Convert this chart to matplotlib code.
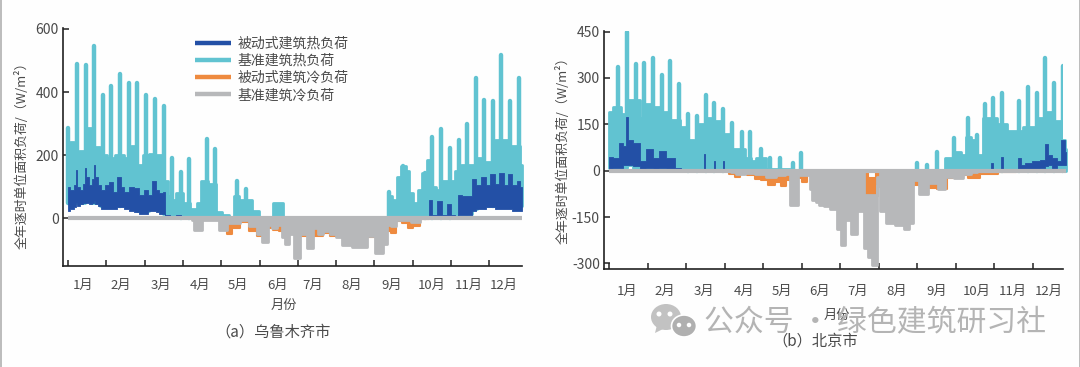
import matplotlib; matplotlib.use("Agg")
import matplotlib.pyplot as plt
from matplotlib.lines import Line2D
from matplotlib.patches import Ellipse, Polygon, Rectangle
import numpy as np

plt.rcParams['font.family'] = ['Noto Sans CJK SC', 'DejaVu Sans']
plt.rcParams['axes.unicode_minus'] = False

W, H = 1080, 367
C_PHEAT, C_BHEAT, C_PCOOL, C_BCOOL = "#2350a6", "#61c3d1", "#ee8a3f", "#b7b8ba"
C_TXT = "#4a4a4a"
MONTHS = [f"{i}月" for i in range(1, 13)]
LABELS = ["被动式建筑热负荷", "基准建筑热负荷", "被动式建筑冷负荷", "基准建筑冷负荷"]
MONTH_TICKS = [30.4 * i for i in range(12)]

# ---- (a) Urumqi (day of year, W/m2)
a_peak_day = [0, 7, 14, 21, 27.5, 34, 41, 48, 55, 62, 69, 76, 82.5, 89.5, 96, 110, 117, 134, 141,
              255, 266, 283, 289, 296, 303, 310, 317, 323.5, 330, 337, 344, 351, 358]
a_peak_val = [285, 488, 485, 545, 390, 420, 457, 430, 430, 390, 378, 355, 190, 147, 188, 252, 220, 118, 92,
              83, 165, 145, 258, 283, 222, 248, 300, 445, 375, 372, 517, 372, 445]
a_bh_day = [0, 3, 7, 11, 16, 22, 28, 34, 41, 48, 52, 57, 62, 66, 72, 78, 80, 83, 89, 94, 100, 104, 107,
            115, 120, 125, 130, 134, 138, 144, 148, 155, 162, 163, 168, 170, 172, 254, 255, 259, 260.5, 262, 266, 270,
            272, 276, 279, 283, 286.5, 290, 293.6, 297.5, 301.5, 305.5, 309.5, 313.5, 319, 322.6,
            326.6, 332, 336, 341, 348, 352, 357, 360]
a_bh_hi = [200, 242, 200, 215, 285, 225, 200, 190, 200, 190, 230, 170, 200, 205, 200, 120, 70, 60, 80, 50, 30, 50, 120,
           110, 20, 12, 5, 70, 60, 60, 25, 0, 0, 50, 50, 50, 0, 0, 70, 60, 0, 130, 165, 150,
           80, 50, 90, 145, 185, 100, 90, 120, 120, 120, 150, 170, 170, 170,
           190, 180, 180, 250, 250, 230, 230, 170]
a_bh_lo = [50, 50, 50, 50, 60, 50, 40, 40, 40, 40, 30, 25, 25, 30, 30, 15, 5, 3, 3, 3, 3, 3, 3,
           3, 3, 3, 3, 3, 3, 3, 3, 0, 0, 3, 3, 3, 0, 0, 3, 3, 0, 3, 3, 3,
           3, 3, 3, 3, 3, 3, 3, 3, 3, 3, 15, 15, 15, 30,
           40, 40, 40, 40, 40, 40, 40, 40]
a_ph_day = [0, 3, 6, 7, 8, 11, 13, 14, 15, 18, 20, 21, 22, 25, 28, 31, 34, 37, 41, 43, 46, 50, 55, 58, 62, 65, 69, 71, 74, 76, 77.5, 80, 82, 89, 91,
            285, 288, 290, 296, 298, 303, 305, 309, 310, 315, 320, 322, 326, 330, 333, 337, 340, 344, 348, 351, 354, 358, 360]
a_ph_hi = [100, 90, 105, 155, 100, 90, 110, 160, 130, 105, 125, 170, 130, 105, 90, 105, 115, 85, 130, 100, 85, 100, 95, 75, 90, 75, 120, 90, 80, 85, 10, 10, 0, 10, 0,
           0, 60, 10, 55, 10, 45, 10, 0, 75, 70, 70, 125, 105, 130, 105, 140, 110, 145, 105, 140, 105, 120, 100]
a_ph_lo = [25, 30, 35, 50, 40, 45, 50, 50, 50, 45, 50, 55, 45, 40, 30, 30, 30, 30, 35, 35, 30, 25, 20, 15, 15, 25, 25, 20, 15, 15, 0, 0, 0, 0, 0,
           0, 0, 0, 0, 0, 0, 0, 0, 10, 10, 10, 25, 30, 30, 35, 35, 30, 30, 30, 30, 25, 25, 25]
a_bc_day = [98, 102, 105, 107, 118, 122, 125, 128, 133, 140, 147, 153, 155, 157, 160, 163, 168, 171, 174, 177,
            182, 186, 193, 196, 200, 205, 211, 214, 221, 229, 234, 240, 248, 252, 254, 258, 262, 268, 276, 283]
a_bc_lo = [-5, -35, -35, -5, -5, -35, -35, -15, -15, -5, -25, -50, -75, -75, -20, -30, -20, -60, -80, -50,
           -125, -50, -95, -30, -50, -40, -50, -60, -85, -90, -90, -55, -110, -80, -20, -25, -5, -5, -10, 0]
a_pc_day = [118, 125, 128, 133, 140, 147, 153, 160, 165, 170, 200, 205, 211, 250, 254, 258, 262, 268, 272, 276, 283, 290]
a_pc_lo = [0, -10, -48, -30, -12, -40, -55, -30, -35, -40, -55, -45, -55, -60, -40, -45, -8, -15, -30, -25, -3, 0]

# ---- (b) Beijing
b_peak_day = [7, 14, 21, 27.7, 34.5, 41.4, 48.3, 55, 62, 69, 76, 83, 89.7, 96.5, 104.7, 110.8, 119.8, 127, 134.5,
              144.8, 151.7, 243, 251, 258.5, 272, 283, 290.7, 296.5, 303, 310, 323.7, 330.3, 337.4, 344, 351, 358]
b_peak_val = [335, 450, 345, 347, 365, 310, 355, 282, 185, 178, 245, 220, 200, 155, 125, 125, 70, 42, 42,
              25, 58, 25, 20, 62, 105, 170, 115, 215, 235, 250, 225, 270, 250, 365, 285, 340]
b_bh_day = [0, 6, 12, 16, 22, 26, 31, 37, 44, 52, 59, 65, 69, 73, 80, 86, 93, 99, 105, 109, 114, 118, 122, 125,
            160, 262, 268, 275, 280, 283, 288, 293.4, 297, 302.6, 310.5, 317, 323.7, 330, 335.5, 341, 347.4, 354, 359, 361]
b_bh_hi = [190, 205, 185, 230, 230, 170, 215, 205, 190, 165, 140, 100, 90, 150, 170, 160, 120, 70, 70, 40, 30, 40, 40, 5,
           3, 3, 40, 60, 50, 110, 100, 50, 170, 170, 150, 130, 130, 140, 140, 170, 190, 160, 100, 70]
b_bh_lo = [8, 8, 10, 20, 5, 5, 5, 5, 5, 3, 0, 0, 0, 0, 0, 0, 0, 0, 0, 0, 0, 0, 0, 0,
           0, 0, 0, 0, 0, 0, 0, 0, 0, 0, 0, 0, 0, 0, 0, 0, 0, 0, 0, 0]
b_ph_day = [0, 5.8, 9, 13, 13.5, 16, 22, 26, 32, 37, 41, 48, 55, 59, 74.5, 75, 76.5, 82, 82.7, 84, 89.5, 90, 91,
            300, 302.6, 304, 309, 310, 312, 322, 323.7, 327, 330, 337, 343, 344.5, 348, 352, 355, 358, 361]
b_ph_hi = [45, 40, 90, 80, 175, 100, 90, 30, 70, 40, 65, 40, 10, 0, 0, 55, 0, 0, 30, 0, 0, 30, 0,
           0, 25, 5, 5, 45, 5, 5, 40, 20, 25, 30, 35, 85, 50, 40, 30, 100, 60]
b_ph_lo = [5, 8, 10, 20, 20, 20, 15, 5, 8, 5, 8, 5, 0, 0, 0, 0, 0, 0, 0, 0, 0, 0, 0,
           0, 0, 0, 0, 0, 0, 0, 0, 0, 5, 5, 10, 15, 20, 10, 20, 20, 20]
b_bc_day = [96, 104, 110, 120, 128, 136, 141, 144.5, 148, 150, 155, 158.5, 159, 161, 165, 166.7, 172, 177, 182, 184,
            188, 193, 198, 203.5, 205, 210, 212.5, 215, 222, 230, 235, 239, 240.5, 248, 256, 263, 267, 277, 282, 290]
b_bc_lo = [-3, -10, -8, -12, -20, -15, -10, -110, -110, -15, -15, -15, -60, -95, -100, -110, -115, -125, -190, -240,
           -160, -205, -130, -250, -280, -305, -50, -130, -170, -175, -190, -170, -30, -75, -40, -60, -20, -25, -10, -3]
b_bc_hi = [0, 0, 0, 0, 0, 0, 0, 0, 0, 0, 0, 0, 0, 0, 0, 0, 0, 0, 0, 0,
           0, 0, 0, -80, -80, -80, -20, 0, 0, 0, 0, 0, 0, 0, 0, 0, 0, 0, 0, 0]
b_pc_day = [92, 97, 102, 105, 112, 118, 122, 128, 133, 138, 141, 150, 155, 158, 170, 185, 192, 203.5, 205, 210, 211,
            242, 255, 263, 269.6, 277, 289, 297, 317, 325]
b_pc_lo = [0, -10, -20, -5, -15, -28, -30, -45, -35, -50, -30, -25, -35, -10, -50, -45, -90, -80, -80, -75, -20,
           -45, -55, -60, -25, -15, -25, -10, -5, 0]
b_pc_hi = [0, 0, 0, 0, 0, 0, 0, 0, 0, 0, 0, 0, 0, 0, 0, 0, 0, 0, -22, -22, 0,
           0, 0, 0, 0, 0, 0, 0, 0, 0]

a_label_days = [12, 42, 74, 105, 135, 166, 194, 225, 257, 289, 318, 346]
b_label_days = [14, 44, 75, 106.5, 136.5, 166.4, 196.4, 227, 258.5, 290, 318.8, 346.8]


def panel(box, xlim, ylim, yticks, label_days, pad, peak, bh, ph, bc, pc, zero_end):
    l, r, t, b = box
    ax = fig.add_axes([l / W, 1 - b / H, (r - l) / W, (b - t) / H])
    ax.set_xlim(*xlim); ax.set_ylim(*ylim)
    ax.patch.set_alpha(0)
    kw = dict(clip_on=False, joinstyle="round", step="mid")
    ax.fill_between(bh[0], bh[2], bh[1], color=C_BHEAT, lw=2.0, zorder=2, **kw)
    # spikes rise from the body of the load curve, not from zero
    base = np.interp(peak[0], bh[0], bh[2])
    ax.vlines(peak[0], base, peak[1], color=C_BHEAT, lw=3.2, capstyle="round", zorder=2)
    ax.fill_between(ph[0], ph[2], ph[1], color=C_PHEAT, lw=0.6, zorder=3, **kw)
    ax.fill_between(pc[0], pc[2], pc[1], color=C_PCOOL, lw=1.5, zorder=4, **kw)
    ax.fill_between(bc[0], bc[2], bc[1], color=C_BCOOL, lw=2.0, zorder=5, **kw)
    ax.plot([0, zero_end], [0, 0], color=C_BCOOL, lw=3.0, zorder=6, solid_capstyle="butt", clip_on=False)
    for s in ("top", "right"):
        ax.spines[s].set_visible(False)
    for s in ("left", "bottom"):
        ax.spines[s].set_linewidth(1.2); ax.spines[s].set_color("#222222")
    ax.set_yticks(yticks)
    ax.set_xticks(MONTH_TICKS, [""] * 12)
    ax.tick_params(which="major", direction="in", length=4, width=1.1, color="#222222",
                   labelsize=10, labelcolor=C_TXT, pad=3)
    ax.set_xticks(label_days, MONTHS, minor=True)
    ax.tick_params(axis="x", which="minor", length=0, pad=pad, labelsize=9.5, labelcolor=C_TXT)
    return ax


def ftext(x, y, s, **kw):
    kw.setdefault("color", C_TXT); kw.setdefault("ha", "center"); kw.setdefault("va", "center")
    return fig.text(x / W, 1 - y / H, s, **kw)


fig = plt.figure(figsize=(W / 100, H / 100), dpi=100, facecolor="#fefefe")

ax_a = panel((63, 522, 28, 266), (-4, 360.3), (-150.4, 603), [0, 200, 400, 600], a_label_days, 9.5,
             (a_peak_day, a_peak_val), (a_bh_day, a_bh_hi, a_bh_lo), (a_ph_day, a_ph_hi, a_ph_lo),
             (a_bc_day, np.zeros(len(a_bc_day)), a_bc_lo), (a_pc_day, np.zeros(len(a_pc_day)), a_pc_lo), 360)
ax_b = panel((604, 1063, 30.7, 269), (-4.2, 358.3), (-318, 453), [-300, -150, 0, 150, 300, 450], b_label_days, 11.5,
             (b_peak_day, b_peak_val), (b_bh_day, b_bh_hi, b_bh_lo), (b_ph_day, b_ph_hi, b_ph_lo),
             (b_bc_day, b_bc_hi, b_bc_lo), (b_pc_day, b_pc_hi, b_pc_lo), 361)

handles = [Line2D([], [], color=c, lw=3.2, solid_capstyle="butt")
           for c in (C_PHEAT, C_BHEAT, C_PCOOL, C_BCOOL)]
ax_a.legend(handles, LABELS, loc="upper left", bbox_to_anchor=((195 - 63) / 459, 1 - (37 - 28) / 238),
            frameon=False, fontsize=10, labelcolor=C_TXT, handlelength=2.6, handletextpad=0.45,
            labelspacing=0.22, borderpad=0, borderaxespad=0)

ylab = "全年逐时单位面积负荷/（W/m²）"
ftext(22, 152, ylab, rotation=90, fontsize=9.3)
ftext(563, 147, ylab, rotation=90, fontsize=9.3)
ftext(284, 305, "月份", fontsize=9.5)
ftext(273, 332, "（a）乌鲁木齐市", fontsize=11)
ftext(815, 341, "（b）北京市", fontsize=11)
ftext(837, 315, "月份", fontsize=9.5)

# watermark
wm = "#b4b4b4"
ftext(875, 323, "公众号 · 绿色建筑研习社", fontsize=21.5, color=wm, zorder=10)
art = fig.add_artist
sx, sy = 1 / W, 1 / H
art(Ellipse((666 * sx, 1 - 317 * sy), 30 * sx, 26 * sy, fc="#c2c2c2", ec="none"))
art(Polygon([(657 * sx, 1 - 325 * sy), (655 * sx, 1 - 333 * sy), (665 * sx, 1 - 328 * sy)], fc="#c2c2c2", ec="none"))
art(Ellipse((684 * sx, 1 - 326 * sy), 25 * sx, 22 * sy, fc="#b0b0b0", ec="white", lw=1.2))
for x, y in [(659, 314), (670, 314)]:
    art(Ellipse((x * sx, 1 - y * sy), 5 * sx, 5 * sy, fc="white", ec="none"))
for x, y in [(679, 325), (689, 325)]:
    art(Ellipse((x * sx, 1 - y * sy), 4.5 * sx, 4.5 * sy, fc="white", ec="none"))

# thin grey edges of the screenshot
art(Rectangle((0, 0), 1.5 * sx, 1, fc="#bdbdbd", ec="none"))
art(Rectangle((1 - 1.5 * sx, 0), 1.5 * sx, 1, fc="#bdbdbd", ec="none"))

fig.savefig("out.png", dpi=100, facecolor=fig.get_facecolor())
